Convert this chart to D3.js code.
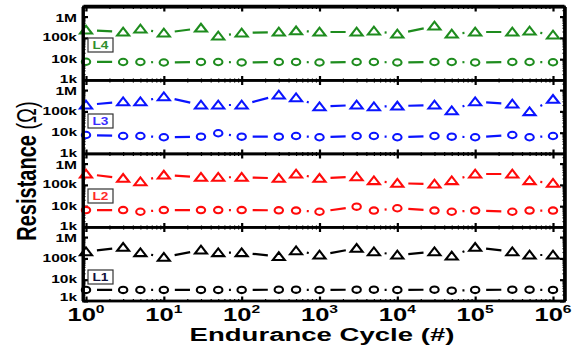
<!DOCTYPE html>
<html>
<head>
<meta charset="utf-8">
<script src="https://cdn.jsdelivr.net/npm/d3@7/dist/d3.min.js"></script>
<style>
  html, body { margin: 0; padding: 0; background: #fff; }
  svg { display: block; }
  text { font-family: "Liberation Sans", Arial, sans-serif; }
</style>
</head>
<body>
<svg id="chart" width="572" height="346"></svg>
<script>
// Endurance cycles at which each cell was read
const cycles = [1, 3, 5, 10, 30, 50, 100, 300, 500, 1e3, 3e3, 5e3, 1e4, 3e4, 5e4, 1e5, 3e5, 5e5, 1e6];

// Layer names, top to bottom
const layers = ["L4", "L3", "L2", "L1"];
const layerColors = ["#1e8c1e", "#0a14ff", "#ff0a0a", "#000000"];
const labelColors = ["#2f8f2f", "#3a2cff", "#ff2a2a", "#10103a"];

// High-resistance state (triangles), ohms
const hrsL4 = [234e3, 189e3, 263e3, 170e3, 290e3, 123e3, 170e3, 189e3, 215e3, 189e3, 189e3, 211e3, 152e3, 361e3, 152e3, 189e3, 189e3, 211e3, 137e3];
const hrsL3 = [200e3, 285e3, 285e3, 490e3, 200e3, 200e3, 200e3, 590e3, 440e3, 166e3, 200e3, 166e3, 178e3, 200e3, 108e3, 285e3, 223e3, 97e3, 370e3];
const hrsL2 = [324e3, 204e3, 141e3, 290e3, 228e3, 228e3, 228e3, 204e3, 324e3, 204e3, 243e3, 158e3, 119e3, 110e3, 158e3, 324e3, 324e3, 158e3, 119e3];
const hrsL1 = [206e3, 331e3, 186e3, 113e3, 247e3, 186e3, 186e3, 122e3, 230e3, 144e3, 297e3, 206e3, 144e3, 206e3, 129e3, 331e3, 206e3, 144e3, 144e3];

// Low-resistance state (circles), ohms
const lrsL4 = [7.6e3, 7.4e3, 7.4e3, 7.0e3, 7.4e3, 7.4e3, 7.0e3, 7.4e3, 7.4e3, 7.0e3, 7.4e3, 7.4e3, 7.0e3, 7.4e3, 7.4e3, 7.0e3, 7.4e3, 7.4e3, 7.2e3];
const lrsL3 = [7.8e3, 7.0e3, 7.0e3, 6.1e3, 6.5e3, 9.4e3, 6.5e3, 6.5e3, 7.0e3, 6.1e3, 7.0e3, 7.0e3, 6.1e3, 7.0e3, 6.5e3, 6.1e3, 7.8e3, 6.1e3, 7.0e3];
const lrsL2 = [6.6e3, 6.6e3, 5.5e3, 6.6e3, 6.6e3, 6.6e3, 6.6e3, 6.4e3, 6.2e3, 5.5e3, 9.5e3, 6.2e3, 8.0e3, 6.2e3, 5.5e3, 6.2e3, 5.5e3, 6.2e3, 6.2e3];
const lrsL1 = [3.3e3, 3.3e3, 3.3e3, 3.3e3, 3.3e3, 3.3e3, 3.3e3, 3.4e3, 3.4e3, 3.3e3, 3.4e3, 3.4e3, 3.3e3, 3.4e3, 3.05e3, 3.3e3, 3.4e3, 3.4e3, 3.3e3];

const hrsSeries = [hrsL4, hrsL3, hrsL2, hrsL1];
const lrsSeries = [lrsL4, lrsL3, lrsL2, lrsL1];

// Axis ticks
const yTickValues = [1e3, 1e4, 1e5, 1e6];
const yTickLabels = ["1k", "10k", "100k", "1M"];
const xTickValues = [1, 10, 100, 1e3, 1e4, 1e5, 1e6];
const xTickExponents = ["0", "1", "2", "3", "4", "5", "6"];

const xTitle = "Endurance Cycle (#)";
const yTitle = "Resistance ";
const yUnit = "(Ω)";

// ---- layout ----
const svg = d3.select("#chart");
const frameL = 83.5, frameR = 564.5;
const panelTop0 = 7, panelH = 73.5;
const boxOffsets = [31, 33.5, 35, 42.5];
const sx = 1.42; // horizontal widening of all lettering

const x = d3.scaleLog().domain([1, 1e6]).range([86, 553]);

function wideText(parent, tx, ty, str, size, anchor, scaleX) {
  return parent.append("text")
    .attr("transform", `translate(${tx},${ty}) scale(${scaleX || sx},1)`)
    .attr("text-anchor", anchor || "middle")
    .attr("font-size", size)
    .attr("font-weight", "bold")
    .attr("fill", "#000")
    .text(str);
}

const minorVals = (lo, hi) => {
  const out = [];
  for (let e = Math.floor(Math.log10(lo)); e <= Math.ceil(Math.log10(hi)); e++) {
    for (let m = 2; m <= 9; m++) {
      const v = m * Math.pow(10, e);
      if (v > lo && v < hi) out.push(v);
    }
  }
  return out;
};

layers.forEach((name, i) => {
  const top = panelTop0 + i * panelH;
  const bottom = top + panelH;
  const y = d3.scaleLog().domain([1e3, Math.pow(10, 6.45)]).range([bottom, top]);
  const g = svg.append("g");
  const color = layerColors[i];

  g.append("rect").attr("x", frameL).attr("y", top).attr("width", frameR - frameL).attr("height", panelH)
    .attr("fill", "#fff");

  // tick marks (inward) on all four sides
  const tickGroup = (axis, tx, ty, w) => {
    const a = g.append("g").attr("transform", `translate(${tx},${ty})`).call(axis);
    a.select(".domain").remove();
    a.selectAll("line").attr("stroke", "#000").attr("stroke-width", w);
    a.selectAll("text").remove();
  };
  const xMinor = minorVals(1, 1e6);
  const yMinor = minorVals(1e3, Math.pow(10, 6.45));
  tickGroup(d3.axisBottom(x).tickValues(xTickValues).tickSize(-4.5), 0, bottom, 2.2);
  tickGroup(d3.axisBottom(x).tickValues(xMinor).tickSize(-2), 0, bottom, 1.2);
  tickGroup(d3.axisTop(x).tickValues(xTickValues).tickSize(-4.5), 0, top, 2.2);
  tickGroup(d3.axisTop(x).tickValues(xMinor).tickSize(-2), 0, top, 1.2);
  tickGroup(d3.axisLeft(y).tickValues(yTickValues).tickSize(-4.5), frameL, 0, 2.2);
  tickGroup(d3.axisLeft(y).tickValues(yMinor).tickSize(-2), frameL, 0, 1.2);
  tickGroup(d3.axisRight(y).tickValues(yTickValues).tickSize(-4.5), frameR, 0, 2.2);
  tickGroup(d3.axisRight(y).tickValues(yMinor).tickSize(-2), frameR, 0, 1.2);

  // connecting strokes: long dash, hidden, dot, repeating
  const drawLinks = (vals) => {
    const pts = cycles.map((c, j) => [x(c), y(vals[j])]);
    for (let j = 0; j < pts.length - 1; j++) {
      const kind = j % 3;
      if (kind === 1) continue;
      const [x1, y1] = pts[j], [x2, y2] = pts[j + 1];
      const L = Math.hypot(x2 - x1, y2 - y1);
      const d = kind === 0 ? Math.max(L - 22, 0) : 2;
      g.append("line")
        .attr("x1", x1).attr("y1", y1).attr("x2", x2).attr("y2", y2)
        .attr("stroke", color).attr("stroke-width", 2.2)
        .attr("stroke-dasharray", `0,${(L - d) / 2},${d},${L}`);
    }
  };
  drawLinks(hrsSeries[i]);
  drawLinks(lrsSeries[i]);

  // open triangles (HRS)
  g.selectAll(".tri").data(hrsSeries[i]).enter().append("path")
    .attr("transform", (v, j) => `translate(${x(cycles[j])},${y(v)})`)
    .attr("d", "M-6,3.5L6,3.5L0,-4.3Z")
    .attr("fill", "#fff").attr("stroke", color).attr("stroke-width", 2.1);

  // open circles (LRS)
  g.selectAll(".cir").data(lrsSeries[i]).enter().append("ellipse")
    .attr("cx", (v, j) => x(cycles[j])).attr("cy", v => y(v))
    .attr("rx", 4.2).attr("ry", 3.2)
    .attr("fill", "#fff").attr("stroke", color).attr("stroke-width", 2.1);

  // layer tag
  const bx = 88, by = top + boxOffsets[i];
  g.append("rect").attr("x", bx).attr("y", by).attr("width", 25).attr("height", 14)
    .attr("fill", "#fff").attr("stroke", "#333").attr("stroke-width", 1.2);
  wideText(g, bx + 12.5, by + 11, name, 10.5, "middle", 1.3).attr("fill", labelColors[i]);

  // frame
  g.append("rect").attr("x", frameL).attr("y", top).attr("width", frameR - frameL).attr("height", panelH)
    .attr("fill", "none").attr("stroke", "#000").attr("stroke-width", 2.8);

  // y tick labels; the end labels are nudged apart where panels meet
  const lastPanel = i === layers.length - 1;
  yTickValues.forEach((v, k) => {
    let nudge = 0;
    if (k === 0) nudge = lastPanel ? -4 : -1;
    if (k === yTickValues.length - 1) nudge = 1.5;
    wideText(svg, 77, y(v) + 3.6 + nudge, yTickLabels[k], 10, "end", 1.55);
  });
});

// outer frame, slightly heavier on the right
svg.append("line").attr("x1", frameR + 0.8).attr("x2", frameR + 0.8)
  .attr("y1", panelTop0).attr("y2", panelTop0 + 4 * panelH)
  .attr("stroke", "#000").attr("stroke-width", 3);
svg.append("line").attr("x1", frameL - 0.5).attr("x2", frameL - 0.5)
  .attr("y1", panelTop0).attr("y2", panelTop0 + 4 * panelH)
  .attr("stroke", "#000").attr("stroke-width", 3);
svg.append("line").attr("x1", frameL).attr("x2", frameR)
  .attr("y1", panelTop0 - 0.5).attr("y2", panelTop0 - 0.5)
  .attr("stroke", "#000").attr("stroke-width", 3.5);

// x tick labels 10^n
xTickValues.forEach((v, k) => {
  const t = wideText(svg, x(v), 320.5, "10", 18);
  t.append("tspan").attr("dy", -7.5).attr("font-size", 11).text(xTickExponents[k]);
});

// axis titles
wideText(svg, 322, 341, xTitle, 19, "middle", 1.45);
const yt = svg.append("text")
  .attr("transform", "translate(36,171) rotate(-90) scale(1,1.4)")
  .attr("text-anchor", "middle").attr("font-size", 20).attr("fill", "#000");
yt.append("tspan").attr("font-weight", "bold").text(yTitle);
yt.append("tspan").attr("font-weight", "normal").text(yUnit);
</script>
</body>
</html>
